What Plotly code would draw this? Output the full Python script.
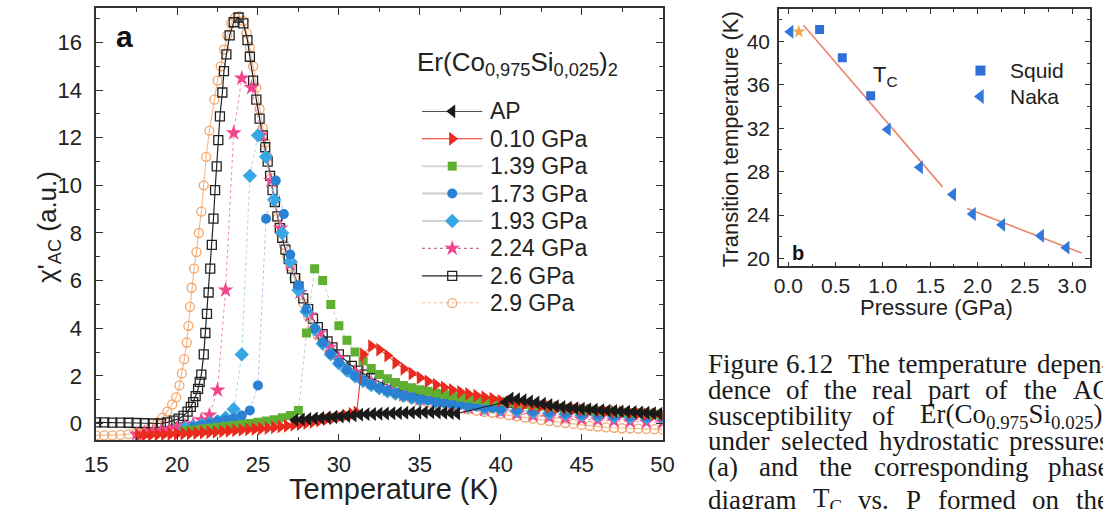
import plotly.graph_objects as go

# ---------------- panel (a): chi'_AC versus temperature ----------------
T_AP = [27.3, 27.7, 28.1, 28.5, 28.9, 29.3, 29.7, 30.1, 30.5, 30.9, 31.3, 31.7, 32.1,
        32.5, 32.9, 33.3, 33.7, 34.1, 34.5, 34.9, 35.3, 35.7, 36.1, 36.5, 36.9, 37.3,
        40.3, 40.6, 41.0, 41.4, 41.8, 42.2, 42.6, 43.0, 43.4, 43.8, 44.2, 44.6, 45.0,
        45.4, 45.8, 46.2, 46.6, 47.0, 47.4, 47.8, 48.2, 48.6, 49.0, 49.4, 49.8]
CHI_AP = [0.15, 0.17, 0.19, 0.21, 0.23, 0.25, 0.27, 0.29, 0.31, 0.34, 0.37, 0.39, 0.40,
          0.41, 0.42, 0.43, 0.44, 0.45, 0.46, 0.46, 0.47, 0.47, 0.46, 0.45, 0.44, 0.42,
          0.90, 1.05, 1.02, 0.98, 0.93, 0.88, 0.83, 0.78, 0.73, 0.69, 0.66, 0.64, 0.62,
          0.60, 0.58, 0.56, 0.54, 0.53, 0.51, 0.50, 0.48, 0.46, 0.45, 0.43, 0.41]

T_010 = [17.6, 18.0, 18.4, 18.8, 19.2, 19.6, 20.0, 20.4, 20.8, 21.2, 21.6, 22.0, 22.4,
         22.8, 23.2, 23.6, 24.0, 24.4, 24.8, 25.2, 25.6, 26.0, 26.4, 26.8, 27.2, 27.6,
         28.0, 28.4, 28.8, 29.2, 29.6, 30.0, 30.4, 30.8, 31.1,
         31.5, 32.0, 32.5, 33.0, 33.5, 34.0, 34.5, 35.0, 35.5, 36.0, 36.5, 37.0, 37.5,
         38.0, 38.5, 39.0, 39.5, 40.0, 40.5, 41.0, 41.5, 42.0, 42.5, 43.0, 43.5, 44.0,
         44.5, 45.0, 45.5, 46.0, 46.5, 47.0, 47.5, 48.0, 48.5, 49.0, 49.5, 50.0]
CHI_010 = [-0.50, -0.48, -0.47, -0.46, -0.45, -0.44, -0.43, -0.42, -0.41, -0.40, -0.38,
           -0.37, -0.35, -0.33, -0.31, -0.29, -0.27, -0.25, -0.23, -0.21, -0.19, -0.16,
           -0.13, -0.10, -0.06, -0.02, 0.02, 0.07, 0.12, 0.17, 0.22, 0.28, 0.34, 0.40, 0.46,
           2.90, 3.25, 3.10, 2.85, 2.55, 2.30, 2.10, 1.92, 1.77, 1.63, 1.51, 1.41, 1.32,
           1.24, 1.17, 1.10, 1.04, 0.95, 0.90, 0.85, 0.81, 0.77, 0.73, 0.69, 0.66, 0.63,
           0.60, 0.57, 0.55, 0.52, 0.50, 0.48, 0.46, 0.44, 0.42, 0.40, 0.38, 0.36]

T_139 = [20.5, 21.0, 21.5, 22.0, 22.5, 23.0, 23.5, 24.0, 24.5, 25.0, 25.5, 26.0, 26.5,
         27.0, 27.5, 28.0, 28.5, 29.0, 29.5, 30.0, 30.5, 31.0, 31.5, 32.0, 32.5, 33.0,
         33.5, 34.0, 34.5, 35.0, 35.5, 36.0, 36.5, 37.0, 37.5, 38.0, 38.5, 39.0, 39.5,
         40.0, 40.5, 41.0, 41.5, 42.0, 42.5, 43.0, 43.5, 44.0, 44.5, 45.0, 45.5, 46.0,
         46.5, 47.0, 47.5, 48.0, 48.5, 49.0, 49.5, 50.0]
CHI_139 = [-0.30, -0.27, -0.23, -0.20, -0.16, -0.12, -0.08, -0.04, 0.00, 0.05, 0.10, 0.16,
           0.24, 0.34, 0.55, 3.80, 6.50, 6.00, 5.00, 4.10, 3.50, 3.00, 2.62, 2.31, 2.06,
           1.88, 1.72, 1.60, 1.50, 1.42, 1.35, 1.28, 1.22, 1.16, 1.10, 1.06, 1.02, 0.98,
           0.95, 0.92, 0.88, 0.84, 0.80, 0.76, 0.73, 0.70, 0.67, 0.64, 0.61, 0.58, 0.56,
           0.53, 0.51, 0.49, 0.47, 0.45, 0.43, 0.41, 0.39, 0.38]

T_173 = [21.0, 21.5, 22.0, 22.5, 23.0, 23.5, 24.0, 24.5, 25.0, 25.5, 26.1, 26.6,
         27.0, 27.5, 28.0, 28.5, 29.0, 29.5, 30.0, 30.5, 31.0, 31.5, 32.0, 32.5, 33.0,
         33.5, 34.0, 34.5, 35.0, 35.5, 36.0, 36.5, 37.0, 37.5, 38.0, 38.5, 39.0, 39.5,
         40.0, 41.0, 42.0, 43.0, 44.0, 45.0, 46.0, 47.0, 48.0, 49.0, 50.0]
CHI_173 = [-0.15, -0.08, 0.00, 0.08, 0.15, 0.22, 0.33, 0.55, 1.60, 8.60, 10.20, 8.80,
           7.10, 5.80, 4.80, 4.00, 3.40, 2.92, 2.55, 2.25, 2.00, 1.80, 1.63, 1.49, 1.37,
           1.27, 1.18, 1.10, 1.03, 0.97, 0.91, 0.86, 0.82, 0.78, 0.74, 0.71, 0.68, 0.65,
           0.62, 0.57, 0.52, 0.48, 0.44, 0.40, 0.37, 0.34, 0.31, 0.28, 0.26]

T_193 = [20.5, 21.0, 21.5, 22.0, 22.5, 23.0, 23.5, 24.0, 24.5, 25.0, 25.5, 26.0, 26.5,
         27.0, 27.5, 28.0, 28.5, 29.0, 29.5, 30.0, 30.5, 31.0, 31.5, 32.0, 32.5, 33.0,
         33.5, 34.0, 34.5, 35.0, 36.0, 37.0, 38.0, 39.0, 40.0, 41.0, 42.0, 43.0, 44.0,
         45.0, 46.0, 47.0, 48.0, 49.0, 50.0]
CHI_193 = [-0.20, -0.12, -0.05, 0.02, 0.10, 0.25, 0.60, 2.90, 10.40, 12.10, 11.20, 9.40,
           8.00, 6.80, 5.60, 4.70, 3.95, 3.35, 2.90, 2.52, 2.22, 1.98, 1.78, 1.61, 1.47,
           1.35, 1.25, 1.16, 1.08, 1.01, 0.90, 0.80, 0.72, 0.65, 0.59, 0.53, 0.48, 0.43,
           0.39, 0.35, 0.32, 0.29, 0.27, 0.25, 0.23]

T_224 = [17.5, 18.0, 18.5, 19.0, 19.5, 20.0, 20.5, 21.0, 21.5, 22.0, 22.5, 23.0, 23.5,
         24.0, 24.6, 25.2, 25.8, 26.4, 27.0, 27.6, 28.2, 28.8, 29.4, 30.0, 31.0, 32.0,
         33.0, 34.0, 35.0, 36.0, 37.0, 38.0, 39.0, 40.0, 41.0, 42.0, 43.0, 44.0, 45.0,
         46.0, 47.0, 48.0, 49.0, 50.0]
CHI_224 = [-0.45, -0.40, -0.35, -0.30, -0.25, -0.18, -0.10, -0.02, 0.15, 0.35, 1.40, 5.60,
           12.20, 14.50, 14.10, 12.10, 10.20, 8.20, 6.70, 5.50, 4.55, 3.80, 3.20, 2.75,
           2.15, 1.72, 1.42, 1.20, 1.02, 0.88, 0.76, 0.66, 0.57, 0.49, 0.41, 0.33, 0.27,
           0.22, 0.18, 0.14, 0.11, 0.08, 0.06, 0.04]

T_26 = [15.0, 15.5, 16.0, 16.5, 17.0, 17.5, 18.0, 18.5, 19.0,
        19.4, 19.8, 20.1, 20.4, 20.65, 20.85, 21.0, 21.15, 21.3, 21.4, 21.5,
        21.65, 21.75, 21.85, 21.95, 22.05, 22.15, 22.25, 22.35, 22.45, 22.55, 22.65,
        22.8, 22.9, 23.05, 23.25, 23.5, 23.8, 24.1, 24.35, 24.5, 24.7, 24.9,
        25.1, 25.3, 25.45, 25.6, 25.75, 25.9, 26.05, 26.2, 26.35, 26.5,
        26.7, 26.9, 27.1, 27.3, 27.5, 27.8, 28.1, 28.4, 28.7, 29.0,
        29.3, 29.6, 30.0, 30.4, 30.8, 31.2, 31.6, 32.0,
        32.5, 33.0, 33.5, 34.0, 34.5, 35.0, 35.5, 36.0, 36.5, 37.0, 37.5, 38.0, 38.5,
        39.0, 39.5, 40.0, 41.0, 42.0, 43.0, 44.0, 45.0, 46.0, 47.0, 48.0, 49.0, 50.0]
CHI_26 = [0.05, 0.05, 0.04, 0.04, 0.03, 0.02, 0.01, 0.00, 0.00,
          0.05, 0.12, 0.20, 0.32, 0.50, 0.70, 0.90, 1.15, 1.45, 1.75, 2.05,
          2.90, 3.80, 4.60, 5.50, 6.50, 7.50, 8.60, 9.80, 10.80, 11.90, 12.90,
          13.90, 14.80, 15.50, 16.30, 16.85, 17.05, 16.80, 16.10, 15.40, 14.40, 13.60,
          12.80, 12.10, 11.60, 11.00, 10.40, 9.80, 9.30, 8.70, 8.20, 7.80,
          7.30, 6.90, 6.50, 6.10, 5.75, 5.25, 4.80, 4.40, 4.05, 3.75,
          3.45, 3.20, 2.90, 2.65, 2.42, 2.22, 2.05, 1.90,
          1.75, 1.60, 1.48, 1.37, 1.28, 1.20, 1.13, 1.06, 1.00, 0.95, 0.90, 0.86, 0.82,
          0.78, 0.75, 0.72, 0.66, 0.61, 0.56, 0.52, 0.48, 0.45, 0.42, 0.39, 0.36, 0.33]

T_29 = [15.0, 15.5, 16.0, 16.5, 17.0, 17.5, 18.0,
        18.4, 18.8, 19.1, 19.4, 19.7, 19.95, 20.15, 20.3, 20.45, 20.6,
        20.7, 20.8, 20.9, 21.05, 21.2, 21.35, 21.5, 21.65, 21.8, 22.0,
        22.3, 22.5, 22.7, 22.9, 23.1, 23.35, 23.6, 23.85, 24.1, 24.3,
        24.5, 24.7, 24.9, 25.1, 25.3, 25.45, 25.6, 25.8, 26.0, 26.2,
        26.4, 26.6, 26.8, 27.0, 27.25, 27.5, 27.8, 28.1, 28.4, 28.7,
        29.0, 29.3, 29.6, 30.0, 30.4, 30.8, 31.2, 31.6, 32.0,
        32.5, 33.0, 33.5, 34.0, 34.5, 35.0, 35.5, 36.0, 36.5, 37.0, 37.5, 38.0,
        38.5, 39.0, 39.5, 40.0, 40.5, 41.0, 41.5, 42.0, 42.5, 43.0, 43.5, 44.0,
        44.5, 45.0, 45.5, 46.0, 46.5, 47.0, 47.5, 48.0, 48.5, 49.0, 49.5, 50.0]
CHI_29 = [-0.50, -0.50, -0.50, -0.48, -0.45, -0.40, -0.30,
          -0.15, 0.05, 0.25, 0.50, 0.80, 1.10, 1.60, 2.10, 2.70, 3.40,
          4.10, 4.90, 5.70, 6.50, 7.20, 8.00, 8.90, 10.00, 11.20, 12.30,
          13.60, 14.40, 15.00, 15.70, 16.30, 16.80, 17.05, 17.10, 16.90, 16.40,
          15.80, 15.00, 14.10, 13.20, 12.40, 11.80, 11.20, 10.30, 9.40, 8.60,
          8.00, 7.50, 7.05, 6.60, 6.10, 5.65, 5.05, 4.50, 4.05, 3.70,
          3.40, 3.15, 2.90, 2.60, 2.35, 2.12, 1.92, 1.76, 1.62,
          1.47, 1.34, 1.22, 1.12, 1.03, 0.95, 0.88, 0.81, 0.75, 0.69, 0.64, 0.59,
          0.54, 0.49, 0.45, 0.40, 0.35, 0.30, 0.25, 0.20, 0.15, 0.10, 0.06, 0.02,
          -0.02, -0.06, -0.10, -0.13, -0.16, -0.18, -0.20, -0.21, -0.22, -0.23, -0.24, -0.25]

SERIES_NAMES = ["AP", "0.10 GPa", "1.39 GPa", "1.73 GPa", "1.93 GPa",
                "2.24 GPa", "2.6 GPa", "2.9 GPa"]
X_TICKS_A = [15, 20, 25, 30, 35, 40, 45, 50]
Y_TICKS_A = [0, 2, 4, 6, 8, 10, 12, 14, 16]

# ---------------- panel (b): transition temperature versus pressure ----------------
P_SQUID = [0.33, 0.57, 0.87]
TC_SQUID = [41.1, 38.5, 35.0]
P_NAKA = [0.02, 1.05, 1.39, 1.74, 1.95, 2.26, 2.67, 2.94]
TC_NAKA = [40.9, 31.9, 28.4, 25.9, 24.1, 23.1, 22.1, 21.0]
P_STAR = [0.11]
TC_STAR = [40.9]
FIT1_P = [0.16, 1.63]
FIT1_TC = [41.5, 26.6]
FIT2_P = [1.89, 3.10]
FIT2_TC = [24.6, 20.5]
X_TICKS_B = [0.0, 0.5, 1.0, 1.5, 2.0, 2.5, 3.0]
Y_TICKS_B = [20, 24, 28, 32, 36, 40]
LEGEND_B = ["Squid", "Naka"]

# ---------------- caption ----------------
CAPTION_WORDS = [
    ["Figure", "6.12", "The", "temperature", "depen-"],
    ["dence", "of", "the", "real", "part", "of", "the", "AC"],
    ["susceptibility", "of", "Er(Co<sub>0.975</sub>Si<sub>0.025</sub>)<sub>2</sub>"],
    ["under", "selected", "hydrostatic", "pressures"],
    ["(a)", "and", "the", "corresponding", "phase"],
    ["diagram", "T<sub>C</sub>", "vs.", "P", "formed", "on", "the"],
]

W, H = 1103, 509
SANS = "Liberation Sans, Arial, sans-serif"
SERIF = "Liberation Serif, Times New Roman, serif"
INK = "#222222"


def fx(p):
    return p / W


def fy(p):
    return 1 - p / H


fig = go.Figure()

styles = {
    "2.9 GPa": dict(x=T_29, y=CHI_29,
                    marker=dict(symbol="circle-open", size=9, color="#f2a66a", line=dict(width=1.3)),
                    line=dict(color="#f5bb90", width=1.2),
                    key_line=dict(color="#e8a070", width=1.2, dash="dot")),
    "2.6 GPa": dict(x=T_26, y=CHI_26,
                    marker=dict(symbol="square-open", size=9, color="#222222", line=dict(width=1.3)),
                    line=dict(color="#222222", width=1.2),
                    key_line=dict(color="#222222", width=1.3)),
    "2.24 GPa": dict(x=T_224, y=CHI_224,
                     marker=dict(symbol="star", size=12, color="#f2478f", line=dict(width=0)),
                     line=dict(color="#f08ab4", width=1, dash="dot"),
                     key_line=dict(color="#c0708f", width=1.2, dash="dot")),
    "1.93 GPa": dict(x=T_193, y=CHI_193,
                     marker=dict(symbol="diamond", size=11, color="#37a6e4", line=dict(width=0)),
                     line=dict(color="#a9d6ee", width=1, dash="dot"),
                     key_line=dict(color="#cfd3d6", width=2)),
    "1.73 GPa": dict(x=T_173, y=CHI_173,
                     marker=dict(symbol="circle", size=10, color="#2a80d2", line=dict(width=0)),
                     line=dict(color="#a2c4e4", width=1, dash="dot"),
                     key_line=dict(color="#c9cdd0", width=2)),
    "1.39 GPa": dict(x=T_139, y=CHI_139,
                     marker=dict(symbol="square", size=9, color="#5fb032", line=dict(width=0)),
                     line=dict(color="#b9ccb0", width=1, dash="dot"),
                     key_line=dict(color="#d3d6d3", width=2)),
    "0.10 GPa": dict(x=T_010, y=CHI_010,
                     marker=dict(symbol="triangle-right", size=12, color="#ea2a1e", line=dict(width=0)),
                     line=dict(color="#ea2a1e", width=1),
                     key_line=dict(color="#ea2a1e", width=1.2)),
    "AP": dict(x=T_AP, y=CHI_AP,
               marker=dict(symbol="triangle-left", size=12, color="#1a1a1a", line=dict(width=0)),
               line=dict(color="#1a1a1a", width=1),
               key_line=dict(color="#1a1a1a", width=1.3)),
}

# curves, highest pressure first so that AP is drawn on top
for name in reversed(SERIES_NAMES):
    s = styles[name]
    fig.add_trace(go.Scatter(x=s["x"], y=s["y"], mode="lines+markers", name=name,
                             marker=s["marker"], line=s["line"], showlegend=False,
                             xaxis="x", yaxis="y"))

# key for panel (a): one slot per series on a small hidden axis pair
for i, name in enumerate(SERIES_NAMES):
    s = styles[name]
    fig.add_trace(go.Scatter(x=[0, 1], y=[i, i], mode="lines", line=s["key_line"],
                             showlegend=False, hoverinfo="skip", cliponaxis=False,
                             xaxis="x3", yaxis="y3"))
    fig.add_trace(go.Scatter(x=[0.5], y=[i], mode="markers", marker=s["marker"],
                             showlegend=False, hoverinfo="skip", cliponaxis=False,
                             xaxis="x3", yaxis="y3"))

# panel (b)
fig.add_trace(go.Scatter(x=FIT1_P, y=FIT1_TC, mode="lines", showlegend=False,
                         line=dict(color="#e8866e", width=1.6), xaxis="x2", yaxis="y2"))
fig.add_trace(go.Scatter(x=FIT2_P, y=FIT2_TC, mode="lines", showlegend=False,
                         line=dict(color="#e8866e", width=1.6), xaxis="x2", yaxis="y2"))
fig.add_trace(go.Scatter(x=P_STAR, y=TC_STAR, mode="markers", showlegend=False,
                         marker=dict(symbol="star", size=10, color="#f2a74a"),
                         xaxis="x2", yaxis="y2"))
squid_marker = dict(symbol="square", size=9, color="#2f6fd6", line=dict(width=0))
naka_marker = dict(symbol="triangle-left", size=12, color="#3178dc", line=dict(width=0))
fig.add_trace(go.Scatter(x=P_SQUID, y=TC_SQUID, mode="markers", name="Squid",
                         marker=squid_marker, showlegend=False, xaxis="x2", yaxis="y2"))
fig.add_trace(go.Scatter(x=P_NAKA, y=TC_NAKA, mode="markers", name="Naka",
                         marker=naka_marker, showlegend=False, xaxis="x2", yaxis="y2"))
# key for panel (b)
for i, mk in enumerate([squid_marker, naka_marker]):
    fig.add_trace(go.Scatter(x=[0.5], y=[i], mode="markers", marker=dict(mk, size=mk["size"] + 1),
                             showlegend=False, hoverinfo="skip", cliponaxis=False,
                             xaxis="x4", yaxis="y4"))

axis_common = dict(showline=True, linecolor="#333333", linewidth=1.5, mirror="allticks",
                   ticks="inside", tickcolor="#333333", tickwidth=1.3, showgrid=False,
                   zeroline=False, color=INK)
hidden = dict(visible=False, showgrid=False, zeroline=False, fixedrange=True)

fig.update_layout(
    width=W, height=H, autosize=False,
    margin=dict(l=0, r=0, t=0, b=0),
    paper_bgcolor="white", plot_bgcolor="white",
    font=dict(family=SANS, color=INK),
    showlegend=False,
    xaxis=dict(axis_common, domain=[fx(86), fx(665)], anchor="y", range=[15, 50],
               tickmode="array", tickvals=X_TICKS_A, ticklen=7,
               minor=dict(dtick=2.5, tick0=15, ticks="inside", ticklen=4, tickcolor="#333333"),
               tickfont=dict(size=22), ticklabelstandoff=3),
    yaxis=dict(axis_common, domain=[fy(443), fy(8)], anchor="x", range=[-0.71, 17.45],
               tickmode="array", tickvals=Y_TICKS_A, ticklen=7,
               minor=dict(dtick=1, tick0=0, ticks="inside", ticklen=4, tickcolor="#333333"),
               tickfont=dict(size=22), ticklabelstandoff=8),
    xaxis2=dict(axis_common, domain=[fx(784), fx(1102)], anchor="y2", range=[-0.10, 3.19],
                tickmode="array", tickvals=X_TICKS_B, ticktext=[f"{v:.1f}" for v in X_TICKS_B],
                ticklen=5,
                minor=dict(dtick=0.25, tick0=0, ticks="inside", ticklen=3, tickcolor="#333333"),
                tickfont=dict(size=21), ticklabelstandoff=0),
    yaxis2=dict(axis_common, domain=[fy(268), fy(9)], anchor="x2", range=[19.27, 43.0],
                tickmode="array", tickvals=Y_TICKS_B, ticklen=5,
                minor=dict(dtick=2, tick0=20, ticks="inside", ticklen=3, tickcolor="#333333"),
                tickfont=dict(size=21), ticklabelstandoff=3),
    xaxis3=dict(hidden, domain=[fx(419), fx(481)], range=[0, 1], anchor="y3"),
    yaxis3=dict(hidden, domain=[fy(305), fy(112)], range=[len(SERIES_NAMES) - 1, 0], anchor="x3"),
    xaxis4=dict(hidden, domain=[fx(980), fx(1000)], range=[0, 1], anchor="y4"),
    yaxis4=dict(hidden, domain=[fy(97), fy(71)], range=[1, 0], anchor="x4"),
)

annotations = [
    dict(text="<b>a</b>", x=fx(115), y=fy(37), font=dict(size=30, color="#111111")),
    dict(text="<b>b</b>", x=fx(803), y=fy(254), font=dict(size=20, color="#111111")),
    dict(text="Er(Co<sub>0,975</sub>Si<sub>0,025</sub>)<sub>2</sub>", x=fx(412), y=fy(64),
         xanchor="left", font=dict(size=26, color=INK)),
    dict(text="Temperature (K)", x=fx(391), y=fy(492), font=dict(size=29, color=INK)),
    dict(text="\u03c7'<sub>AC</sub> (a.u.)", x=fx(37), y=fy(228), textangle=-90,
         font=dict(size=26, color=INK)),
    dict(text="Transition temperature (K)", x=fx(734), y=fy(140), textangle=-90,
         font=dict(size=22, color=INK)),
    dict(text="Pressure (GPa)", x=fx(945), y=fy(309), font=dict(size=22, color=INK)),
    dict(text="T<sub>C</sub>", x=fx(893), y=fy(76), font=dict(size=22, color=INK)),
]

# key labels
for i, name in enumerate(SERIES_NAMES):
    annotations.append(dict(text=name, x=fx(487), xanchor="left", y=i, yref="y3",
                            font=dict(size=23, color=INK)))
for i, name in enumerate(LEGEND_B):
    annotations.append(dict(text=name, x=fx(1018), xanchor="left", y=i, yref="y4",
                            font=dict(size=21, color=INK)))

# justified caption, one annotation per word; the column runs past the right edge
word_x = [
    [709, 789, 853, 904, 1046],
    [709, 789, 828, 877, 934, 993, 1032, 1083],
    [709, 877, 926],
    [709, 784, 884, 1017],
    [709, 762, 823, 879, 1057],
    [709, 817, 863, 912, 945, 1041, 1086],
]
line_y = [366, 392, 418, 444, 470, 503]
for words, xs, yl in zip(CAPTION_WORDS, word_x, line_y):
    for w, xw in zip(words, xs):
        annotations.append(dict(text=w, x=fx(xw), y=fy(yl), xanchor="left", yanchor="middle",
                                font=dict(family=SERIF, size=27, color="#1a1a1a")))

for a in annotations:
    a.setdefault("xref", "paper")
    a.setdefault("yref", "paper")
    a.setdefault("showarrow", False)
    a.setdefault("xanchor", "center")
    a.setdefault("yanchor", "middle")
fig.update_layout(annotations=annotations)

fig.write_html("out.html")
